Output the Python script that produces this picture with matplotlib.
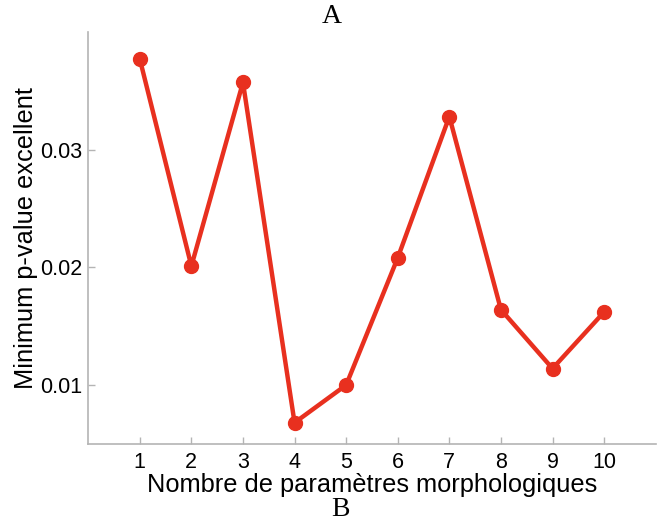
import matplotlib
matplotlib.use("Agg")
import matplotlib.pyplot as plt

# Données
nb_params = [1, 2, 3, 4, 5, 6, 7, 8, 9, 10]
p_min = [0.0377, 0.0201, 0.0357, 0.0068, 0.0100, 0.0208, 0.0328, 0.0164, 0.0114, 0.0162]
y_ticks = [0.01, 0.02, 0.03]
y_tick_labels = ["0.01", "0.02", "0.03"]

rouge = "#e8301f"
gris = "#b4b4b4"

fig = plt.figure(figsize=(6.63, 5.21), dpi=100)
ax = fig.add_axes([0.133, 0.148, 0.856, 0.791])

ax.plot(nb_params, p_min, color=rouge, linewidth=3.2, marker="o", markersize=10,
        solid_capstyle="round")

ax.set_xlim(0, 11)
ax.set_ylim(0.005, 0.040)
ax.set_xticks(nb_params)
ax.set_yticks(y_ticks)
ax.set_yticklabels(y_tick_labels)

for s in ["top", "right"]:
    ax.spines[s].set_visible(False)
for s in ["left", "bottom"]:
    ax.spines[s].set_color(gris)
    ax.spines[s].set_linewidth(1.2)

ax.tick_params(direction="in", length=5, width=1, color=gris,
               labelsize=15.5, labelcolor="black")
ax.tick_params(axis="x", pad=6)
ax.tick_params(axis="y", pad=4)
for lab in ax.get_xticklabels() + ax.get_yticklabels():
    lab.set_family("Liberation Sans")

ax.set_xlabel("Nombre de paramètres morphologiques", fontsize=18.3,
              family="Liberation Sans", labelpad=0)
ax.set_ylabel("Minimum p-value excellent", fontsize=18.3,
              family="Liberation Sans", labelpad=2)

fig.text(0.5, 0.969, "A", ha="center", va="center", fontsize=20, family="Liberation Serif")
fig.text(0.513, 0.022, "B", ha="center", va="center", fontsize=20, family="Liberation Serif")

fig.savefig("out.png", dpi=100)
